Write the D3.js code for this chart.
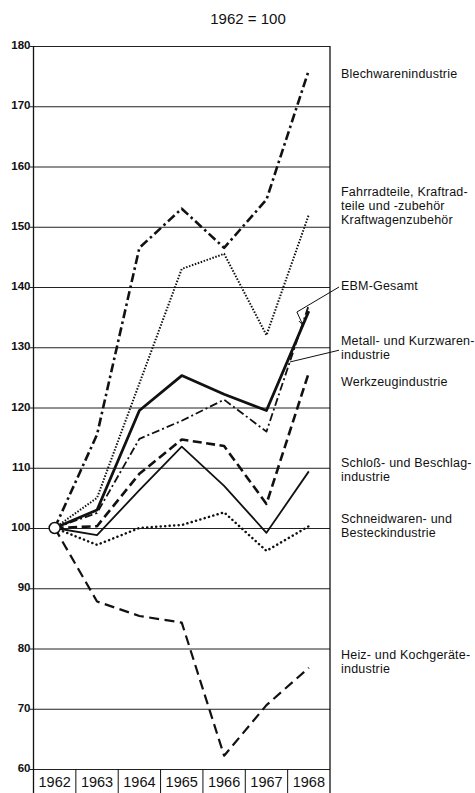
<!DOCTYPE html>
<html>
<head>
<meta charset="utf-8">
<script src="https://cdn.jsdelivr.net/npm/d3@7"></script>
<style>
  body { margin: 0; background: #fff; }
  svg { font-family: "Liberation Sans", Arial, sans-serif; }
  .gridlines line { stroke: #222; stroke-width: 1; }
  .gridlines path { display: none; }
</style>
</head>
<body>
<svg id="chart" width="475" height="793"></svg>
<script>
// years on the x axis
const years = ["1962", "1963", "1964", "1965", "1966", "1967", "1968"];
const yTicks = [60, 70, 80, 90, 100, 110, 120, 130, 140, 150, 160, 170, 180];

// index values, 1962 = 100
const blechwaren = [100, 115.5, 146.5, 153, 146.5, 154.5, 176];
const fahrradteile = [100, 105, 124, 143, 145.5, 132, 152];
const ebmGesamt = [100, 103, 119.5, 125.3, 122.2, 119.5, 136];
const metallKurzwaren = [100, 102.5, 114.8, 117.8, 121.3, 116, 137];
const werkzeug = [100, 100.3, 109, 114.7, 113.6, 104, 125.8];
const schlossBeschlag = [100, 98.8, 106.3, 113.5, 107, 99.2, 109.4];
const schneidwaren = [100, 97.2, 100, 100.5, 102.6, 96.2, 100.3];
const heizKoch = [100, 87.8, 85.4, 84.3, 62.2, 70.6, 76.8];

// label texts (one entry per line)
const labelBlech = ["Blechwarenindustrie"];
const labelFahrrad = ["Fahrradteile, Kraftrad-", "teile und -zubehör", "Kraftwagenzubehör"];
const labelEbm = ["EBM-Gesamt"];
const labelMetall = ["Metall- und Kurzwaren-", "industrie"];
const labelWerkzeug = ["Werkzeugindustrie"];
const labelSchloss = ["Schloß- und Beschlag-", "industrie"];
const labelSchneid = ["Schneidwaren- und", "Besteckindustrie"];
const labelHeiz = ["Heiz- und Kochgeräte-", "industrie"];

const genChart = () => {
  const svg = d3.select("svg#chart");

  const margins = { top: 46, bottom: 24, left: 33.5, right: 145 };
  const width = +svg.attr("width");
  const height = +svg.attr("height");

  const xScale = d3.scaleBand()
    .domain(years)
    .range([margins.left, width - margins.right]);

  const yScale = d3.scaleLinear()
    .domain([60, 180])
    .range([height - margins.bottom, margins.top]);

  const xc = (i) => xScale(years[i]) + xScale.bandwidth() / 2;

  // series with their line styles
  const series = [
    { values: blechwaren, label: labelBlech, at: 175.3, w: 2.6, dash: "9,3.5,2.5,3.5", cap: "butt" },
    { values: fahrradteile, label: labelFahrrad, at: 155.6, w: 2, dash: "1.5,1.6", cap: "butt" },
    { values: ebmGesamt, label: labelEbm, at: 140, w: 2.8, dash: null, cap: "butt" },
    { values: metallKurzwaren, label: labelMetall, at: 131, w: 1.8, dash: "8,3,2,3", cap: "butt" },
    { values: werkzeug, label: labelWerkzeug, at: 124.1, w: 2.6, dash: "9,4.5", cap: "butt" },
    { values: schlossBeschlag, label: labelSchloss, at: 110.6, w: 1.8, dash: null, cap: "butt" },
    { values: schneidwaren, label: labelSchneid, at: 101.4, w: 2.5, dash: "0.1,4.4", cap: "round" },
    { values: heizKoch, label: labelHeiz, at: 78.8, w: 2.2, dash: "10,5.5", cap: "butt" }
  ];

  // title
  svg.append("text")
    .attr("x", 248)
    .attr("y", 20)
    .attr("text-anchor", "middle")
    .attr("dominant-baseline", "middle")
    .attr("font-size", 15)
    .attr("fill", "#111")
    .text("1962 = 100");

  //gridlines
  const yGrid = d3.axisLeft(yScale)
    .tickValues(yTicks)
    .tickSize(-(width - margins.right - margins.left + 4))
    .tickFormat("");

  svg.append("g")
    .attr("class", "gridlines")
    .attr("transform", `translate(${margins.left - 4},0)`)
    .call(yGrid);

  // y labels
  svg.append("g")
    .selectAll("text")
    .data(yTicks)
    .join("text")
    .attr("x", margins.left - 3)
    .attr("y", (d) => yScale(d))
    .attr("text-anchor", "end")
    .attr("dominant-baseline", "middle")
    .attr("font-size", 11.5)
    .attr("font-weight", "bold")
    .attr("fill", "#111")
    .text((d) => d);

  // frame: left and right border down to the bottom
  const frame = svg.append("g").attr("stroke", "#111").attr("stroke-width", 1.3);
  frame.append("line")
    .attr("x1", margins.left).attr("x2", margins.left)
    .attr("y1", margins.top).attr("y2", height);
  frame.append("line")
    .attr("x1", width - margins.right).attr("x2", width - margins.right)
    .attr("y1", margins.top).attr("y2", height);

  // x axis cells
  const xSide = svg.append("g");
  xSide.selectAll("line")
    .data(years.slice(1))
    .join("line")
    .attr("x1", (d) => xScale(d))
    .attr("x2", (d) => xScale(d))
    .attr("y1", yScale(60))
    .attr("y2", height)
    .attr("stroke", "#111")
    .attr("stroke-width", 1);
  xSide.selectAll("text")
    .data(years)
    .join("text")
    .attr("x", (d) => xScale(d) + xScale.bandwidth() / 2)
    .attr("y", yScale(60) + 14)
    .attr("text-anchor", "middle")
    .attr("dominant-baseline", "middle")
    .attr("font-size", 14.5)
    .attr("fill", "#111")
    .text((d) => d);

  // lines
  const line = d3.line()
    .x((d, i) => xc(i))
    .y((d) => yScale(d));

  svg.append("g")
    .selectAll("path")
    .data(series)
    .join("path")
    .attr("d", (d) => line(d.values))
    .attr("fill", "none")
    .attr("stroke", "#111")
    .attr("stroke-width", (d) => d.w)
    .attr("stroke-dasharray", (d) => d.dash)
    .attr("stroke-linecap", (d) => d.cap)
    .attr("stroke-linejoin", "round");

  // start marker
  svg.append("circle")
    .attr("cx", xc(0))
    .attr("cy", yScale(100))
    .attr("r", 5.5)
    .attr("fill", "#fff")
    .attr("stroke", "#111")
    .attr("stroke-width", 1.5);

  // labels on the right
  const labelX = width - margins.right + 11;
  const labels = svg.append("g")
    .attr("font-size", 12.5)
    .attr("letter-spacing", 0.2)
    .attr("fill", "#111");
  series.forEach((s) => {
    s.label.forEach((txt, k) => {
      labels.append("text")
        .attr("x", labelX)
        .attr("y", yScale(s.at) + k * 14)
        .attr("dominant-baseline", "middle")
        .text(txt);
    });
  });

  // leader lines for EBM-Gesamt and Metall
  const pointOn = (vals, t) => [
    xc(5) + t * (xc(6) - xc(5)),
    yScale(vals[5] + t * (vals[6] - vals[5]))
  ];
  const ebmTip = pointOn(ebmGesamt, 0.86);
  const ebmElbow = [ebmTip[0] - 6, ebmTip[1] - 13];
  const leaders = svg.append("g")
    .attr("fill", "none")
    .attr("stroke", "#111")
    .attr("stroke-width", 1);
  leaders.append("path")
    .attr("d", d3.line()([[labelX - 2, yScale(140)], ebmElbow, ebmTip]));
  leaders.append("path")
    .attr("d", d3.line()([[ebmTip[0] - 4, ebmTip[1] - 4], ebmTip, [ebmTip[0] + 2, ebmTip[1] - 5]]));

  const metTip = pointOn(metallKurzwaren, 0.55);
  leaders.append("path")
    .attr("d", d3.line()([[labelX - 2, yScale(131) + 9], metTip]));
};

genChart();
</script>
</body>
</html>
